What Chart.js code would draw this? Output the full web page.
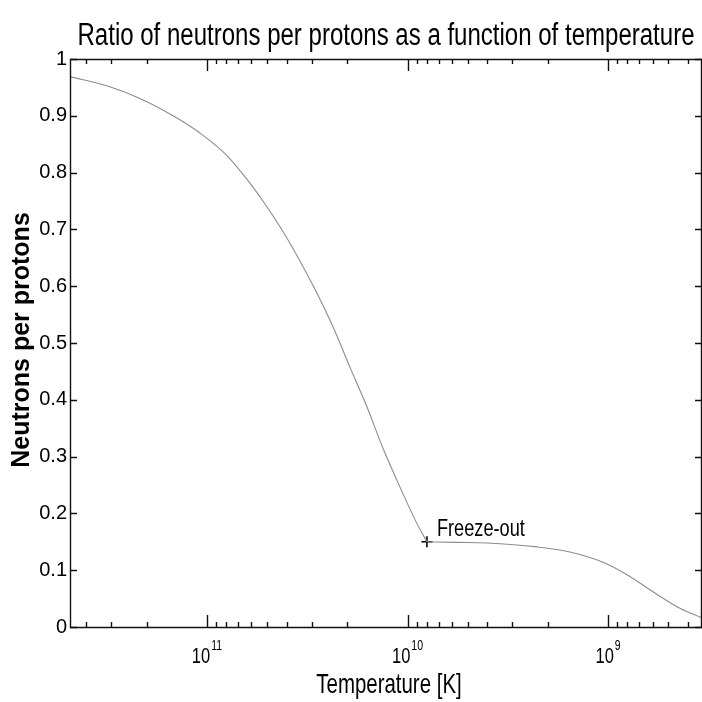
<!DOCTYPE html>
<html>
<head>
<meta charset="utf-8">
<script src="https://cdn.jsdelivr.net/npm/chart.js@4.4.1/dist/chart.umd.min.js"></script>
<style>
  html, body { margin: 0; padding: 0; background: #fff; }
  canvas { display: block; }
</style>
</head>
<body>
<canvas id="graficoNeutrons" width="702" height="702"></canvas>
<script>
// Temperatura [K] e razão n/p até o freeze-out
const temperaturaAntes = [4.82e11, 3.05e11, 2.08e11, 1.41e11, 1.05e11, 7.95e10, 6.31e10, 5.26e10, 4.33e10,
                          3.72e10, 2.83e10, 2.35e10, 1.94e10, 1.59e10, 1.33e10, 1.08e10, 8.97e9, 8.0e9];
const razaoAntes = [0.969, 0.951, 0.928, 0.896, 0.866, 0.830, 0.788, 0.750, 0.705,
                    0.666, 0.588, 0.528, 0.458, 0.387, 0.316, 0.243, 0.182, 0.150];

// Depois do freeze-out (decaimento dos nêutrons)
const temperaturaDepois = [8.0e9, 5.7e9, 4.01e9, 2.26e9, 1.55e9, 1.06e9, 8.04e8, 5.97e8, 4.38e8, 3.40e8];
const razaoDepois = [0.150, 0.149, 0.148, 0.141, 0.132, 0.114, 0.092, 0.062, 0.033, 0.016];

// Ponto marcado do freeze-out
const freezeTemp = 8.0e9;
const freezeRazao = 0.150;

// Eixos
const limitesX = [3.4e8, 4.82e11];
const xDecadas = [1e11, 1e10, 1e9];
const xExpoentes = ['11', '10', '9'];
const yTicks = [0, 0.1, 0.2, 0.3, 0.4, 0.5, 0.6, 0.7, 0.8, 0.9, 1];

const FONTE = "'Liberation Sans', Arial, sans-serif";

// Texto "estreito" (fonte condensada com escala horizontal)
function textoEstreito(ctx, txt, x, y, fonte, escala, alinhamento) {
    ctx.save();
    ctx.font = fonte;
    ctx.textAlign = alinhamento || 'left';
    ctx.textBaseline = 'alphabetic';
    ctx.translate(x, y);
    ctx.scale(escala, 1);
    ctx.fillText(txt, 0, 0);
    ctx.restore();
}

function larguraEstreita(ctx, txt, fonte, escala) {
    ctx.save();
    ctx.font = fonte;
    const w = ctx.measureText(txt).width * escala;
    ctx.restore();
    return w;
}

// Moldura, ticks para dentro, rótulos e títulos
const moldura = {
    id: 'moldura',
    beforeDraw(chart) {
        const ctx = chart.ctx;
        ctx.save();
        ctx.fillStyle = '#fff';
        ctx.fillRect(0, 0, chart.width, chart.height);
        ctx.restore();
    },
    afterDraw(chart) {
        const ctx = chart.ctx;
        const a = chart.chartArea;
        const x = chart.scales.x;
        const y = chart.scales.y;

        ctx.save();
        ctx.strokeStyle = '#111';
        ctx.lineWidth = 1.4;
        ctx.beginPath();
        ctx.rect(a.left + 0.5, a.top + 0.5, a.right - a.left - 1, a.bottom - a.top);
        ctx.stroke();

        // ticks do eixo y (esquerda e direita)
        ctx.beginPath();
        yTicks.forEach(v => {
            const py = Math.round(y.getPixelForValue(v)) + 0.5;
            ctx.moveTo(a.left, py); ctx.lineTo(a.left + 7, py);
            ctx.moveTo(a.right, py); ctx.lineTo(a.right - 7, py);
        });
        // ticks logarítmicos do eixo x (embaixo e em cima)
        const d0 = Math.floor(Math.log10(limitesX[0]));
        const d1 = Math.ceil(Math.log10(limitesX[1]));
        for (let d = d0; d <= d1; d++) {
            for (let m = 1; m <= 9; m++) {
                const v = m * Math.pow(10, d);
                if (v < limitesX[0] || v > limitesX[1]) continue;
                const px = Math.round(x.getPixelForValue(v)) + 0.5;
                const len = m === 1 ? 12 : 5;
                ctx.moveTo(px, a.bottom); ctx.lineTo(px, a.bottom - len);
                ctx.moveTo(px, a.top); ctx.lineTo(px, a.top + len);
            }
        }
        ctx.stroke();

        ctx.fillStyle = '#000';

        // rótulos 10^n
        const fBase = '22px ' + FONTE;
        const fExp = '14px ' + FONTE;
        xDecadas.forEach((v, i) => {
            const px = x.getPixelForValue(v);
            const wb = larguraEstreita(ctx, '10', fBase, 0.75);
            const we = larguraEstreita(ctx, xExpoentes[i], fExp, 0.75);
            const ini = px - (wb + we + 1) / 2;
            textoEstreito(ctx, '10', ini, a.bottom + 36, fBase, 0.75);
            textoEstreito(ctx, xExpoentes[i], ini + wb + 1, a.bottom + 23, fExp, 0.75);
        });

        // título e rótulo do eixo x
        textoEstreito(ctx, 'Ratio of neutrons per protons as a function of temperature',
            (a.left + a.right) / 2, a.top - 14, '31px ' + FONTE, 0.775, 'center');
        textoEstreito(ctx, 'Temperature [K]', (a.left + a.right) / 2 + 3, a.bottom + 66,
            '28px ' + FONTE, 0.73, 'center');

        // rótulo do eixo y
        ctx.save();
        ctx.translate(22, (a.top + a.bottom) / 2 - 3);
        ctx.rotate(-Math.PI / 2);
        ctx.font = 'bold 25px ' + FONTE;
        ctx.textAlign = 'center';
        ctx.textBaseline = 'middle';
        ctx.fillText('Neutrons per protons', 0, 0);
        ctx.restore();

        // anotação do freeze-out
        const fx = x.getPixelForValue(freezeTemp);
        const fy = y.getPixelForValue(freezeRazao);
        textoEstreito(ctx, 'Freeze-out', fx + 10, fy - 6, '23px ' + FONTE, 0.79);

        ctx.restore();
    }
};

const pontos = (ts, rs) => ts.map((t, i) => ({ x: t, y: rs[i] }));

const ctx = document.getElementById('graficoNeutrons').getContext('2d');

new Chart(ctx, {
    type: 'line',
    data: {
        datasets: [
            {
                data: pontos(temperaturaAntes, razaoAntes),
                borderColor: '#8c8c8c',
                borderWidth: 1.1,
                pointRadius: 0,
                cubicInterpolationMode: 'monotone',
                fill: false
            },
            {
                data: pontos(temperaturaDepois, razaoDepois),
                borderColor: '#8c8c8c',
                borderWidth: 1.1,
                pointRadius: 0,
                cubicInterpolationMode: 'monotone',
                fill: false
            },
            {
                data: [{ x: freezeTemp, y: freezeRazao }],
                showLine: false,
                pointStyle: 'cross',
                pointRadius: 5.5,
                borderColor: '#000',
                borderWidth: 1.6
            }
        ]
    },
    options: {
        responsive: false,
        animation: false,
        devicePixelRatio: 1,
        layout: { autoPadding: false, padding: { top: 59, right: 0, bottom: 0, left: 0 } },
        plugins: {
            legend: { display: false },
            tooltip: { enabled: false }
        },
        scales: {
            x: {
                type: 'logarithmic',
                reverse: true,
                min: limitesX[0],
                max: limitesX[1],
                grid: { display: false, drawTicks: false },
                border: { display: false },
                ticks: { display: false },
                afterFit(s) { s.height = 75; }
            },
            y: {
                min: 0,
                max: 1,
                afterBuildTicks(s) { s.ticks = yTicks.map(v => ({ value: v })); },
                grid: { display: false, drawTicks: false },
                border: { display: false },
                ticks: {
                    font: { family: FONTE, size: 20 },
                    color: '#000',
                    padding: 3,
                    callback: v => v.toFixed(1).replace(/\.0$/, '')
                },
                afterFit(s) { s.width = 70; }
            }
        }
    },
    plugins: [moldura]
});
</script>
</body>
</html>
